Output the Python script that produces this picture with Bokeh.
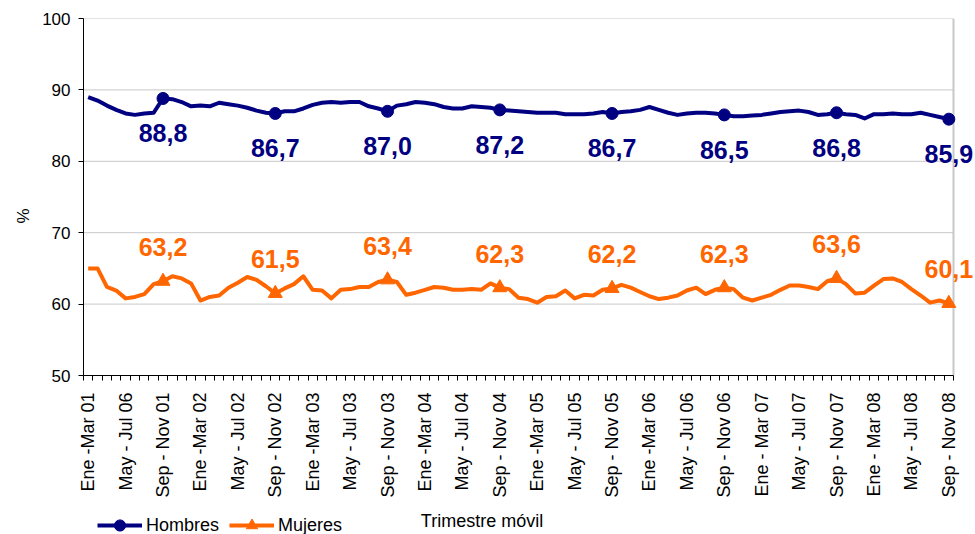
import math
from bokeh.plotting import figure
from bokeh.layouts import column
from bokeh.models import (Range1d, FixedTicker, LabelSet, Label, ColumnDataSource,
                          Legend, LegendItem, Title)
from bokeh.core.properties import value
from bokeh.embed import file_html
from bokeh.resources import INLINE

# ---- data -------------------------------------------------------------
tick_labels = [
    "Ene -Mar 01", "May - Jul 06", "Sep - Nov 01",
    "Ene -Mar 02", "May - Jul 02", "Sep - Nov 02",
    "Ene -Mar 03", "May - Jul 03", "Sep - Nov 03",
    "Ene -Mar 04", "May - Jul 04", "Sep - Nov 04",
    "Ene -Mar 05", "May - Jul 05", "Sep - Nov 05",
    "Ene -Mar 06", "May - Jul 06", "Sep - Nov 06",
    "Ene - Mar 07", "May - Jul 07", "Sep - Nov 07",
    "Ene - Mar 08", "May - Jul 08", "Sep - Nov 08",
]

hombres = [
    89.0, 88.5, 87.8, 87.2, 86.7, 86.5, 86.7, 86.8, 88.8, 88.7,
    88.3, 87.7, 87.8, 87.7, 88.2, 88.0, 87.8, 87.5, 87.1, 86.8,
    86.7, 87.0, 87.0, 87.4, 87.9, 88.2, 88.3, 88.2, 88.3, 88.3,
    87.7, 87.4, 87.0, 87.8, 88.0, 88.3, 88.2, 88.0, 87.6, 87.4,
    87.4, 87.7, 87.6, 87.5, 87.2, 87.1, 87.0, 86.9, 86.8, 86.8,
    86.8, 86.6, 86.6, 86.6, 86.7, 86.9, 86.7, 86.9, 87.0, 87.2,
    87.6, 87.2, 86.8, 86.5, 86.7, 86.8, 86.8, 86.7, 86.5, 86.3,
    86.3, 86.4, 86.5, 86.7, 86.9, 87.0, 87.1, 86.9, 86.5, 86.6,
    86.8, 86.6, 86.5, 86.0, 86.6, 86.6, 86.7, 86.6, 86.6, 86.8,
    86.5, 86.2, 85.9,
]

mujeres = [
    65.0, 65.0, 62.4, 61.9, 60.8, 61.0, 61.4, 62.8, 63.2, 63.9,
    63.6, 62.9, 60.5, 61.0, 61.2, 62.3, 63.0, 63.8, 63.4, 62.5,
    61.5, 62.2, 62.8, 63.9, 62.0, 61.9, 60.8, 62.0, 62.1, 62.4,
    62.4, 63.1, 63.4, 63.1, 61.3, 61.6, 62.0, 62.4, 62.3, 62.0,
    62.0, 62.1, 62.0, 62.9, 62.3, 62.1, 60.9, 60.7, 60.2, 61.0,
    61.1, 61.9, 60.8, 61.3, 61.2, 62.0, 62.2, 62.7, 62.3, 61.7,
    61.1, 60.7, 60.9, 61.2, 61.9, 62.3, 61.4, 62.0, 62.3, 62.1,
    60.9, 60.5, 60.9, 61.3, 62.0, 62.6, 62.6, 62.4, 62.1, 63.2,
    63.6, 62.8, 61.5, 61.6, 62.6, 63.5, 63.6, 63.1, 62.1, 61.2,
    60.2, 60.5, 60.1,
]

marked_idx = [8, 20, 32, 44, 56, 68, 80, 92]
y_ticks = [50, 60, 70, 80, 90, 100]

NAVY = "#000080"
ORANGE = "#FF6600"
GRID = "#C8C8C8"
FONT = "Liberation Sans"

# ---- geometry ---------------------------------------------------------
W = 975
H1, H2 = 506, 28
LEFT = 83
n = len(hombres)
xs = list(range(n))
tick_pos = [i * 4 for i in range(len(tick_labels))]
x_lo, x_hi = -0.5, n - 0.5
px_per_unit = 870.0 / n                    # category width in pixels
x_end = x_lo + (W - LEFT) / px_per_unit    # frame runs to the canvas edge

# ---- main figure ------------------------------------------------------
p = figure(width=W, height=H1, output_backend="svg", toolbar_location=None,
           x_range=Range1d(x_lo, x_end), y_range=Range1d(50, 100),
           min_border_left=LEFT, min_border_right=0, min_border_top=18,
           min_border_bottom=H1 - 18 - 357)
p.background_fill_color = "white"
p.border_fill_color = "white"
p.outline_line_color = None
p.xgrid.visible = False
p.ygrid.visible = False

# gridlines / plot-area border, limited to the category span
grid_vals = [v for v in y_ticks if v > 50]
p.segment(x0=[x_lo] * len(grid_vals), y0=grid_vals,
          x1=[x_hi] * len(grid_vals), y1=grid_vals,
          line_color=GRID, line_width=1, level="underlay")
p.segment(x0=[x_hi], y0=[50], x1=[x_hi], y1=[100],
          line_color=GRID, line_width=2, level="underlay")

yax = p.yaxis[0]
yax.ticker = FixedTicker(ticks=y_ticks)
yax.axis_line_color = "black"
yax.major_tick_line_color = "black"
yax.major_tick_in = 0
yax.major_tick_out = 5
yax.minor_tick_line_color = None
yax.major_label_text_font = FONT
yax.major_label_text_font_size = "17px"
yax.major_label_text_color = "black"
yax.major_label_standoff = 8

# "%" title on the left, a little below the middle as in the original
p.add_layout(Title(text="%", align="left", offset=152, standoff=14,
                   text_font=FONT, text_font_size="17px",
                   text_font_style="normal", text_color="black"), "left")

xax = p.xaxis[0]
xax.bounds = (x_lo, x_hi)
xax.ticker = FixedTicker(ticks=tick_pos, minor_ticks=[i - 0.5 for i in range(n + 1)])
xax.major_label_overrides = {pos: lab for pos, lab in zip(tick_pos, tick_labels)}
xax.axis_line_color = "black"
xax.major_tick_line_color = None
xax.major_tick_in = 0
xax.major_tick_out = 5
xax.minor_tick_line_color = "black"
xax.minor_tick_in = 0
xax.minor_tick_out = 5
xax.major_label_orientation = math.pi / 2
xax.major_label_text_font = FONT
xax.major_label_text_font_size = "18px"
xax.major_label_text_color = "black"
xax.major_label_standoff = 12

# ---- series -----------------------------------------------------------
mx = [xs[i] for i in marked_idx]
mh_y = [hombres[i] for i in marked_idx]
mm_y = [mujeres[i] for i in marked_idx]

p.line(xs, hombres, line_color=NAVY, line_width=4, line_join="round")
p.scatter(mx, mh_y, marker="circle", size=12, color=NAVY)
p.line(xs, mujeres, line_color=ORANGE, line_width=4, line_join="round")
p.scatter(mx, mm_y, marker="triangle", size=14, color=ORANGE)


def fmt(v):
    return f"{v:.1f}".replace(".", ",")


src_h = ColumnDataSource(dict(x=mx, y=mh_y, t=[fmt(v) for v in mh_y]))
src_m = ColumnDataSource(dict(x=mx, y=mm_y, t=[fmt(v) for v in mm_y]))
p.add_layout(LabelSet(x="x", y="y", text="t", source=src_h, y_offset=-35,
                      text_align="center", text_baseline="middle",
                      text_font=value(FONT), text_font_size="25px",
                      text_font_style="bold", text_color=NAVY))
p.add_layout(LabelSet(x="x", y="y", text="t", source=src_m, y_offset=34,
                      text_align="center", text_baseline="middle",
                      text_font=value(FONT), text_font_size="25px",
                      text_font_style="bold", text_color=ORANGE))

# ---- bottom strip: legend + x-axis title ------------------------------
q = figure(width=W, height=H2, output_backend="svg", toolbar_location=None,
           x_range=Range1d(x_lo, x_end), y_range=Range1d(0, H2),
           x_axis_location=None, y_axis_location=None,
           min_border_left=LEFT, min_border_right=0, min_border_top=0,
           min_border_bottom=0)
q.grid.visible = False
q.outline_line_color = None
q.background_fill_color = "white"
q.border_fill_color = "white"

# same series (out of this strip's view) so that the legend has real renderers
lh = q.line(xs, hombres, line_color=NAVY, line_width=4)
sh = q.scatter(mx, mh_y, marker="circle", size=12, color=NAVY)
lm = q.line(xs, mujeres, line_color=ORANGE, line_width=4)
sm = q.scatter(mx, mm_y, marker="triangle", size=14, color=ORANGE)

legend = Legend(items=[LegendItem(label="Hombres", renderers=[lh, sh]),
                       LegendItem(label="Mujeres", renderers=[lm, sm])],
                orientation="horizontal", location=(14, -5),
                glyph_width=45, glyph_height=28, label_height=16,
                label_standoff=4, spacing=10,
                padding=0, margin=0, border_line_color=None,
                background_fill_alpha=0,
                label_text_font=FONT, label_text_font_size="18px",
                label_text_color="black")
q.add_layout(legend)
q.add_layout(Label(x=42.1, y=14, text="Trimestre móvil",
                   text_align="center", text_baseline="middle",
                   text_font=FONT, text_font_size="18px", text_color="black"))

layout = column(p, q, spacing=0)
open("out.html", "w").write(file_html(layout, INLINE))
